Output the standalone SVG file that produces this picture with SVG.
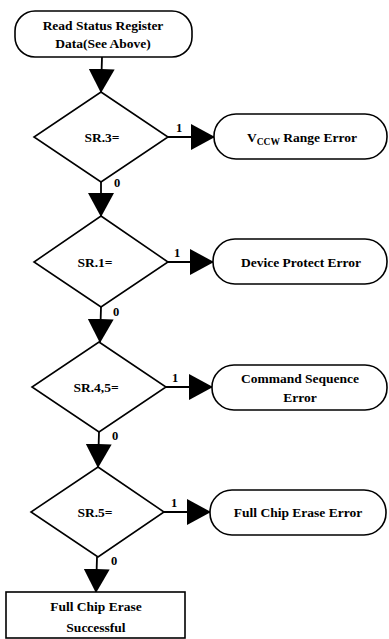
<svg xmlns="http://www.w3.org/2000/svg" width="389" height="639" viewBox="0 0 389 639">
<style>
.shape{fill:#fff;stroke:#000;stroke-width:1.6}
.line{fill:none;stroke:#000;stroke-width:1.8;marker-end:url(#arr)}
text{font-family:"Liberation Serif","Times New Roman",serif;font-weight:bold;font-size:13.5px;fill:#000;text-anchor:middle}
.lbl{font-size:12.5px}
</style>
<defs>
<marker id="arr" markerUnits="userSpaceOnUse" markerWidth="24" markerHeight="26" refX="23" refY="13" orient="auto">
<path d="M0,0 L24,13 L0,26 Z" fill="#000"/>
</marker>
</defs>
<rect width="389" height="639" fill="#fff"/>
<g id="connectors">
<path class="line" d="M102,57 L101,92"/>
<path class="line" d="M168,137 L214,137"/>
<path class="line" d="M101,182 L101,216"/>
<path class="line" d="M168,262 L213,262"/>
<path class="line" d="M101,307 L100,342"/>
<path class="line" d="M166,387 L212,387"/>
<path class="line" d="M99,432 L98,467"/>
<path class="line" d="M164,512 L210,512"/>
<path class="line" d="M97,557 L96,592"/>
<text class="lbl" x="179" y="132">1</text>
<text class="lbl" x="117" y="187">0</text>
<text class="lbl" x="177" y="257">1</text>
<text class="lbl" x="116" y="316">0</text>
<text class="lbl" x="175" y="382">1</text>
<text class="lbl" x="115" y="440">0</text>
<text class="lbl" x="174" y="507">1</text>
<text class="lbl" x="114" y="565">0</text>
</g>
<g id="start">
<rect class="shape" x="15" y="11" width="177" height="46" rx="20"/>
<text x="103" y="29.5">Read Status Register</text>
<text x="103" y="48">Data(See Above)</text>
</g>
<g id="sr3">
<polygon class="shape" points="101,92 168,137 101,182 34,137"/>
<text x="102" y="141.5">SR.3=</text>
</g>
<g id="vccw">
<rect class="shape" x="214" y="114" width="173" height="45" rx="22"/>
<text x="302" y="141.5">V<tspan font-size="9.5" dy="3">CCW</tspan><tspan dy="-3"> Range Error</tspan></text>
</g>
<g id="sr1">
<polygon class="shape" points="101,216 168,262 101,307 34,262"/>
<text x="95" y="266.5">SR.1=</text>
</g>
<g id="protect">
<rect class="shape" x="213" y="239" width="174" height="45" rx="22"/>
<text x="301" y="266.5">Device Protect Error</text>
</g>
<g id="sr45">
<polygon class="shape" points="99,342 166,387 99,432 32,387"/>
<text x="96" y="391.5">SR.4,5=</text>
</g>
<g id="cmdseq">
<rect class="shape" x="212" y="365" width="175" height="45" rx="22"/>
<text x="300" y="383">Command Sequence</text>
<text x="300" y="402">Error</text>
</g>
<g id="sr5">
<polygon class="shape" points="98,467 164,512 98,557 31,512"/>
<text x="95" y="516.5">SR.5=</text>
</g>
<g id="chiperr">
<rect class="shape" x="210" y="490" width="176" height="45" rx="22"/>
<text x="298" y="517">Full Chip Erase Error</text>
</g>
<g id="success">
<rect class="shape" x="6" y="592" width="179" height="46"/>
<text x="96" y="611">Full Chip Erase</text>
<text x="96" y="632">Successful</text>
</g>
</svg>
